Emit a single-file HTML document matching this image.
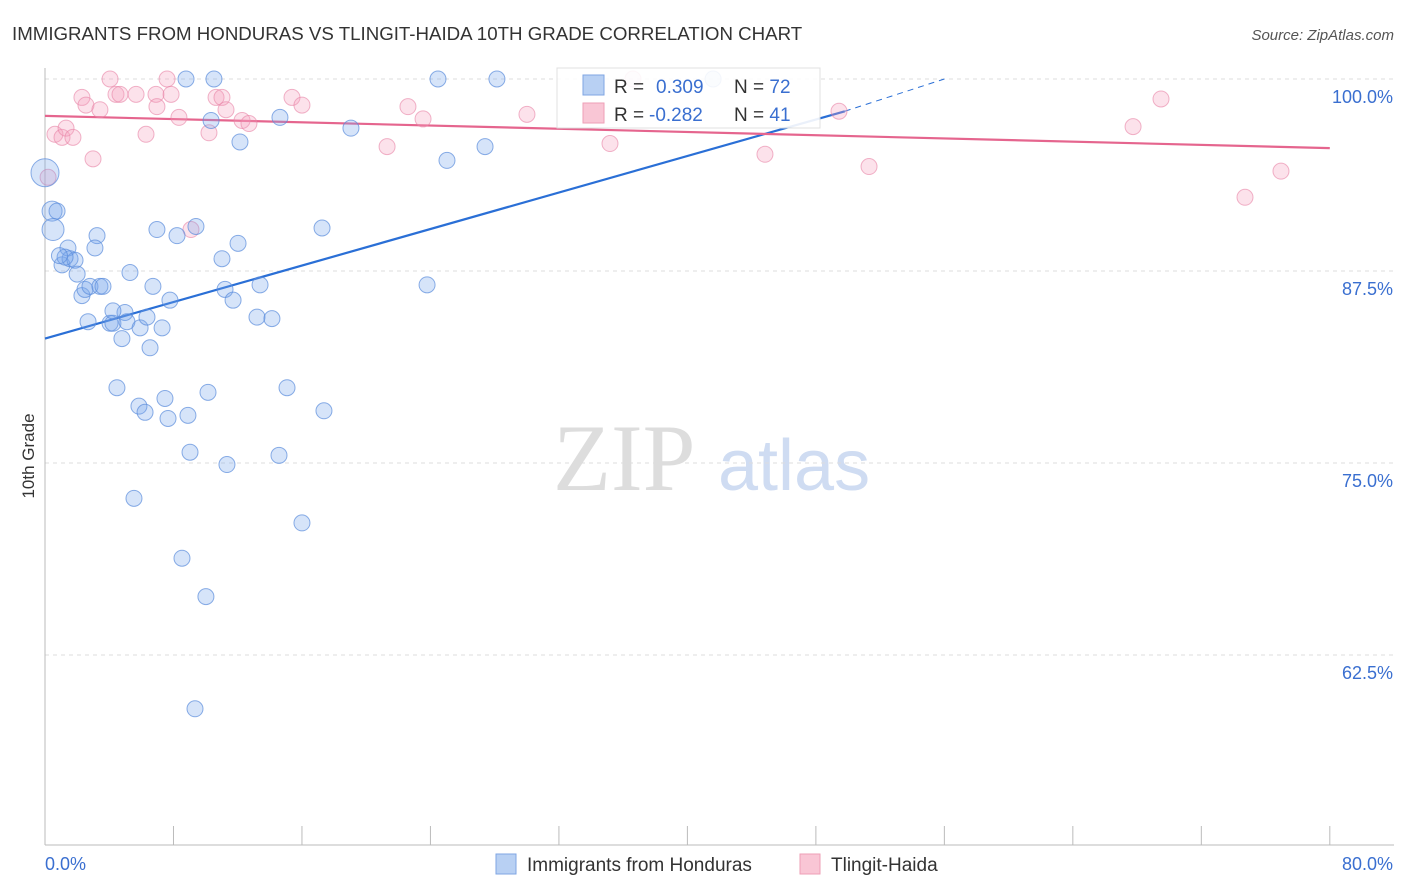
<!DOCTYPE html>
<html><head><meta charset="utf-8"><style>
body{margin:0;background:#fff;font-family:"Liberation Sans",sans-serif;}
svg{display:block}
</style></head><body>
<svg id="chart" width="1406" height="892">
<text x="12" y="40" font-size="18.7" fill="#333">IMMIGRANTS FROM HONDURAS VS TLINGIT-HAIDA 10TH GRADE CORRELATION CHART</text>
<text x="1394" y="40" font-size="15" fill="#555" font-style="italic" text-anchor="end">Source: ZipAtlas.com</text>
<text x="34" y="456" font-size="17" fill="#333" transform="rotate(-90 34 456)" text-anchor="middle">10th Grade</text>
<g><text x="553" y="490" font-family="Liberation Serif,serif" font-size="95" fill="#ddd">ZIP</text><text x="718" y="490" font-size="72" fill="#cfdcf2">atlas</text></g>
<g id="grid"></g><g id="axes"></g><g id="lines"></g><g id="pts"></g>
<g>
<rect x="557" y="68" width="263" height="60" fill="#fff" stroke="#ddd" opacity="0.9"/>
<rect x="583" y="75" width="21" height="20" fill="#b8d0f3" stroke="#7fa6e3"/>
<rect x="583" y="103" width="21" height="20" fill="#f9c6d5" stroke="#ee9fb6"/>
<text x="614" y="93" font-size="19" fill="#333">R = <tspan x="656" fill="#3a6fd0">0.309</tspan><tspan x="734" fill="#333">N = </tspan><tspan fill="#3a6fd0">72</tspan></text>
<text x="614" y="121" font-size="19" fill="#333">R = <tspan x="649" fill="#3a6fd0">-0.282</tspan><tspan x="734" fill="#333">N = </tspan><tspan fill="#3a6fd0"> 41</tspan></text>
</g>
<g>
<rect x="496" y="854" width="20" height="20" fill="#b8d0f3" stroke="#7fa6e3"/>
<text x="527" y="871" font-size="19" fill="#333">Immigrants from Honduras</text>
<rect x="800" y="854" width="20" height="20" fill="#f9c6d5" stroke="#ee9fb6"/>
<text x="831" y="871" font-size="19" fill="#333">Tlingit-Haida</text>
</g>
</svg>
<script>
const yTicks=[100,87.5,75,62.5];
const yTickLabels=["100.0%","87.5%","75.0%","62.5%"];
const xTicks=[0,8,16,24,32,40,48,56,64,72,80];
const blueX=[0.0,0.44,0.75,0.5,1.43,1.06,1.56,1.87,1.25,2.0,3.24,3.11,2.3,2.49,2.8,3.42,3.61,2.68,4.05,4.23,4.98,4.23,5.1,4.79,5.92,6.35,7.29,6.54,5.29,6.72,7.78,6.97,8.22,9.4,11.02,11.21,11.71,12.02,13.2,13.39,14.13,12.14,10.34,8.78,10.52,14.63,19.05,24.47,28.14,25.03,27.4,17.25,23.79,4.48,5.85,6.23,7.47,7.66,8.9,10.15,15.07,17.37,9.03,11.33,14.57,5.54,16.0,8.53,10.02,9.34,41.6,0.9];
const blueY=[93.9,91.4,91.4,90.2,89.0,87.9,88.3,88.2,88.4,87.3,89.8,89.0,85.9,86.3,86.5,86.5,86.5,84.2,84.1,84.1,84.8,84.9,84.2,83.1,83.8,84.5,83.8,82.5,87.4,86.5,85.6,90.2,89.8,90.4,88.3,86.3,85.6,89.3,84.5,86.6,84.4,95.9,97.3,100,100,97.5,96.8,100,100,94.7,95.6,90.3,86.6,79.9,78.7,78.3,79.2,77.9,78.1,79.6,79.9,78.4,75.7,74.9,75.5,72.7,71.1,68.8,66.3,59.0,100,88.5];
const blueSize=[14,10,8,11];
const pinkX=[0.19,0.62,1.06,1.31,1.74,2.3,2.55,3.42,2.99,4.05,4.42,4.67,5.67,6.29,6.91,6.97,7.6,7.85,8.34,9.09,10.21,10.65,11.02,11.27,12.27,12.7,15.38,16.0,21.3,22.6,23.54,30.01,35.18,36.61,44.83,49.44,51.31,67.75,69.49,74.72,76.96];
const pinkY=[93.6,96.4,96.2,96.8,96.2,98.8,98.3,98.0,94.8,100,99.0,99.0,99.0,96.4,99.0,98.2,100,99.0,97.5,90.2,96.5,98.8,98.8,98.0,97.3,97.1,98.8,98.3,95.6,98.2,97.4,97.7,95.8,100,95.1,97.9,94.3,96.9,98.7,92.3,94.0];
const blueTrend=[0,83.1,49.8,97.9,56,100];
const pinkTrend=[0,97.6,80,95.5];
const X=v=>45+v*16.06, Y=v=>79+(100-v)*15.36;
const NS="http://www.w3.org/2000/svg";
function mk(p,t,a){const e=document.createElementNS(NS,t);for(const k in a)e.setAttribute(k,a[k]);document.getElementById(p).appendChild(e);return e;}
yTicks.forEach((t,i)=>{
 const g=mk('grid','line',{x1:45,x2:1394,y1:Y(t),y2:Y(t),stroke:'#ddd','stroke-dasharray':'4 4'});
 
 
 const l=mk('grid','text',{x:1393,y:Y(t)+24,'font-size':18,fill:'#3a6fd0','text-anchor':'end'});l.textContent=yTickLabels[i];
 
 
});
let a=mk('axes','line',{x1:45,x2:45,y1:68,y2:845,stroke:'#bbb'});


a=mk('axes','line',{x1:45,x2:1394,y1:845,y2:845,stroke:'#bbb'});


xTicks.forEach(t=>{if(t>0){const k=mk('axes','line',{x1:X(t),x2:X(t),y1:826,y2:845,stroke:'#bbb'});
 
 }});
let t0=mk('axes','text',{x:45,y:870,'font-size':18,fill:'#3a6fd0'});t0.textContent='0.0%';


let t1=mk('axes','text',{x:1393,y:870,'font-size':18,fill:'#3a6fd0','text-anchor':'end'});t1.textContent='80.0%';


pinkX.forEach((x,i)=>{const c=mk('pts','circle',{cx:X(x),cy:Y(pinkY[i]),r:8,fill:'rgba(244,160,190,0.3)',stroke:'rgba(232,130,165,0.6)'});
 
 });
blueX.forEach((x,i)=>{const c=mk('pts','circle',{cx:X(x),cy:Y(blueY[i]),r:blueSize[i]||8,fill:'rgba(120,165,235,0.3)',stroke:'rgba(90,140,220,0.7)'});
 
 });
let b=mk('lines','line',{x1:X(blueTrend[0]),y1:Y(blueTrend[1]),x2:X(blueTrend[2]),y2:Y(blueTrend[3]),stroke:'#2a6fd6','stroke-width':2.2});


b=mk('lines','line',{x1:X(blueTrend[2]),y1:Y(blueTrend[3]),x2:X(blueTrend[4]),y2:Y(blueTrend[5]),stroke:'#2a6fd6','stroke-width':1,'stroke-dasharray':'6 5'});


b=mk('lines','line',{x1:X(pinkTrend[0]),y1:Y(pinkTrend[1]),x2:X(pinkTrend[2]),y2:Y(pinkTrend[3]),stroke:'#e5658e','stroke-width':2.2});


</script>
</body></html>
